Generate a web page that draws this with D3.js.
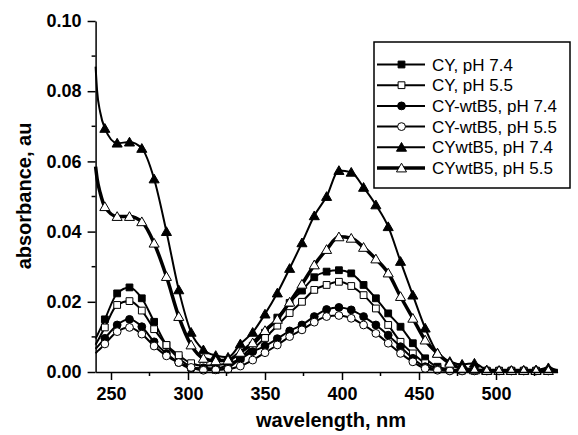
<!DOCTYPE html>
<html>
<head>
<meta charset="utf-8">
<script src="https://cdn.jsdelivr.net/npm/d3@7"></script>
<style>
	body { margin: 0; background: #fff; }
	svg text { font-family: "Liberation Sans", Arial, sans-serif; }
</style>
</head>
<body>
<svg width="578" height="435"></svg>
<script>
'use strict';
// data - markers sit every 8 nm from 246, first few points are extra
let aWl = [240, 241, 243, 246, 254, 262, 270, 278, 286, 294, 302, 310, 318, 326, 334, 342, 350, 358, 366,
	374, 382, 390, 398, 406, 414, 422, 430, 438, 446, 454, 462, 470, 478, 486, 494, 502, 510, 518, 526, 534, 540]

let aCY74 = [0.0095, 0.0104, 0.0122, 0.0150, 0.0224, 0.0241, 0.0210, 0.0143, 0.0077, 0.0039, 0.0015, 0.0008, 0.0006,
	0.0012, 0.0040, 0.0075, 0.0112, 0.0155, 0.0197, 0.0232, 0.0270, 0.0286, 0.0290, 0.0281, 0.0248, 0.0210, 0.0167,
	0.0129, 0.0082, 0.0039, 0.0015, 0.0008, 0.0005, 0.0004, 0.0003, 0.0003, 0.0003, 0.0003, 0.0003, 0.0003, 0.0003]
let aCY55 = [0.0078, 0.0086, 0.0102, 0.0127, 0.0191, 0.0202, 0.0175, 0.0122, 0.0077, 0.0048, 0.0025, 0.0018, 0.0020,
	0.0024, 0.0038, 0.0065, 0.0097, 0.0132, 0.0168, 0.0200, 0.0234, 0.0248, 0.0257, 0.0245, 0.0219, 0.0181, 0.0134,
	0.0086, 0.0053, 0.0025, 0.0010, 0.0006, 0.0004, 0.0004, 0.0004, 0.0004, 0.0004, 0.0004, 0.0004, 0.0004, 0.0004]
let aCYw74 = [0.0066, 0.0071, 0.0081, 0.0096, 0.0134, 0.0150, 0.0129, 0.0086, 0.0053, 0.0027, 0.0010, 0.0012, 0.0010,
	0.0020, 0.0037, 0.0058, 0.0074, 0.0095, 0.0117, 0.0134, 0.0158, 0.0178, 0.0184, 0.0177, 0.0158, 0.0134, 0.0105,
	0.0072, 0.0039, 0.0015, 0.0008, 0.0004, 0.0004, 0.0004, 0.0004, 0.0004, 0.0004, 0.0004, 0.0004, 0.0004, 0.0004]
let aCYw55 = [0.0053, 0.0058, 0.0066, 0.0080, 0.0115, 0.0127, 0.0108, 0.0074, 0.0046, 0.0027, 0.0013, 0.0005, 0.0006,
	0.0008, 0.0017, 0.0034, 0.0055, 0.0077, 0.0101, 0.0120, 0.0142, 0.0158, 0.0161, 0.0153, 0.0134, 0.0110, 0.0082,
	0.0053, 0.0029, 0.0010, 0.0005, 0.0003, 0.0003, 0.0003, 0.0003, 0.0003, 0.0003, 0.0003, 0.0003, 0.0003, 0.0003]
let aCYwt74 = [0.0870, 0.0800, 0.0740, 0.0694, 0.0652, 0.0655, 0.0637, 0.0550, 0.0400, 0.0234, 0.0113, 0.0063, 0.0047,
	0.0042, 0.0080, 0.0113, 0.0165, 0.0225, 0.0295, 0.0368, 0.0445, 0.0500, 0.0574, 0.0569, 0.0526, 0.0476, 0.0414,
	0.0315, 0.0219, 0.0125, 0.0054, 0.0030, 0.0022, 0.0025, 0.0006, 0.0004, 0.0004, 0.0005, 0.0006, 0.0012, 0.0004]
let aCYwt55 = [0.0585, 0.0550, 0.0510, 0.0471, 0.0443, 0.0443, 0.0428, 0.0367, 0.0272, 0.0158, 0.0077, 0.0039, 0.0032,
	0.0034, 0.0056, 0.0083, 0.0118, 0.0150, 0.0199, 0.0250, 0.0305, 0.0349, 0.0385, 0.0381, 0.0355, 0.0322, 0.0282,
	0.0215, 0.0153, 0.0091, 0.0053, 0.0025, 0.0010, 0.0006, 0.0004, 0.0004, 0.0004, 0.0004, 0.0004, 0.0004, 0.0004]

let aNames = ["CY, pH 7.4", "CY, pH 5.5", "CY-wtB5, pH 7.4", "CY-wtB5, pH 5.5", "CYwtB5, pH 7.4", "CYwtB5, pH 5.5"]
let aXTicks = [250, 300, 350, 400, 450, 500]
let aYTicks = [0, 0.02, 0.04, 0.06, 0.08, 0.10]

// series -> look
let aSeries = [
	{vals: aCY74, sym: d3.symbolSquare, size: 46, fill: "#000", w: 2},
	{vals: aCY55, sym: d3.symbolSquare, size: 46, fill: "#fff", w: 2},
	{vals: aCYw74, sym: d3.symbolCircle, size: 48, fill: "#000", w: 2},
	{vals: aCYw55, sym: d3.symbolCircle, size: 48, fill: "#fff", w: 2},
	{vals: aCYwt74, sym: d3.symbolTriangle, size: 44, fill: "#000", w: 2},
	{vals: aCYwt55, sym: d3.symbolTriangle, size: 44, fill: "#fff", w: 3.5}]
aSeries.forEach((s, i) => { s.name = aNames[i] })

let svg = d3.select("svg")
let x = d3.scaleLinear().domain([240, 540]).range([95.6, 557.6])
let y = d3.scaleLinear().domain([0, 0.10]).range([372, 21])

let line = d3.line()
	.x((d, i) => x(aWl[i]))
	.y(d => y(d))
	.curve(d3.curveMonotoneX)

// lines first, markers on top
let gSer = svg.append("g").selectAll("g").data(aSeries).enter().append("g")
gSer.append("path")
	.attr("d", s => line(s.vals))
	.attr("fill", "none")
	.attr("stroke", "#000")
	.attr("stroke-width", s => s.w)
	.attr("stroke-linejoin", "round")

gSer.each(function(s) {
	let pts = s.vals.map((v, i) => ({w: aWl[i], v: v}))
		.filter(p => p.w >= 246 && p.w <= 534 && (p.w - 246) % 8 === 0)
	d3.select(this).selectAll("path.m").data(pts).enter().append("path")
		.attr("class", "m")
		.attr("d", d3.symbol().type(s.sym).size(s.size))
		.attr("transform", p => `translate(${x(p.w)},${y(p.v) + (s.sym === d3.symbolTriangle ? 1 : 0)})`)
		.attr("fill", s.fill)
		.attr("stroke", "#000")
		.attr("stroke-width", 1)
})

// axes
let xAx = svg.append("g").attr("transform", `translate(0,${y(0)})`)
	.call(d3.axisBottom(x).tickValues(aXTicks).tickSize(8).tickSizeOuter(0).tickFormat(d3.format("d")))
xAx.append("g").selectAll("line").data(d3.range(275, 540, 50)).enter().append("line")
	.attr("x1", d => x(d)).attr("x2", d => x(d)).attr("y1", 0).attr("y2", 4)
	.attr("stroke", "#000").attr("stroke-width", 1.5)

let yAx = svg.append("g").attr("transform", `translate(${x(240)},0)`)
	.call(d3.axisLeft(y).tickValues(aYTicks).tickSize(8).tickSizeOuter(0).tickFormat(d3.format(".2f")))
yAx.append("g").selectAll("line").data([0.01, 0.03, 0.05, 0.07, 0.09]).enter().append("line")
	.attr("y1", d => y(d)).attr("y2", d => y(d)).attr("x1", 0).attr("x2", -4)
	.attr("stroke", "#000").attr("stroke-width", 1.5)

svg.selectAll(".domain").attr("stroke-width", 1.5)
svg.selectAll(".tick line").attr("stroke-width", 1.5)
svg.selectAll(".tick text")
	.attr("font-family", "Liberation Sans, Arial, sans-serif")
	.attr("font-size", 18).attr("font-weight", "bold").attr("fill", "#000")
xAx.selectAll(".tick text").attr("y", 15)
yAx.selectAll(".tick text").attr("x", -14)

// axis titles
svg.append("text")
	.attr("x", 331).attr("y", 427)
	.attr("text-anchor", "middle")
	.attr("font-size", 20).attr("font-weight", "bold")
	.text("wavelength, nm")
svg.append("text")
	.attr("transform", "translate(31,196) rotate(-90)")
	.attr("text-anchor", "middle")
	.attr("font-size", 20).attr("font-weight", "bold")
	.text("absorbance, au")

// legend
let gLeg = svg.append("g")
gLeg.append("rect")
	.attr("x", 374).attr("y", 42).attr("width", 196).attr("height", 146)
	.attr("fill", "#fff").attr("stroke", "#000").attr("stroke-width", 1.5)
let eItems = gLeg.selectAll("g.item").data(aSeries).enter().append("g")
	.attr("class", "item")
	.attr("transform", (s, i) => `translate(0,${64.5 + i * 20.7})`)
eItems.append("line")
	.attr("x1", 377).attr("x2", 425).attr("y1", 0).attr("y2", 0)
	.attr("stroke", "#000").attr("stroke-width", s => s.w)
eItems.append("path")
	.attr("d", s => d3.symbol().type(s.sym).size(s.size)())
	.attr("transform", s => `translate(401.5,${s.sym === d3.symbolTriangle ? 1 : 0})`)
	.attr("fill", s => s.fill).attr("stroke", "#000").attr("stroke-width", 1)
eItems.append("text")
	.attr("x", 432).attr("y", 6)
	.attr("font-size", 17)
	.text(s => s.name)
</script>
</body>
</html>
